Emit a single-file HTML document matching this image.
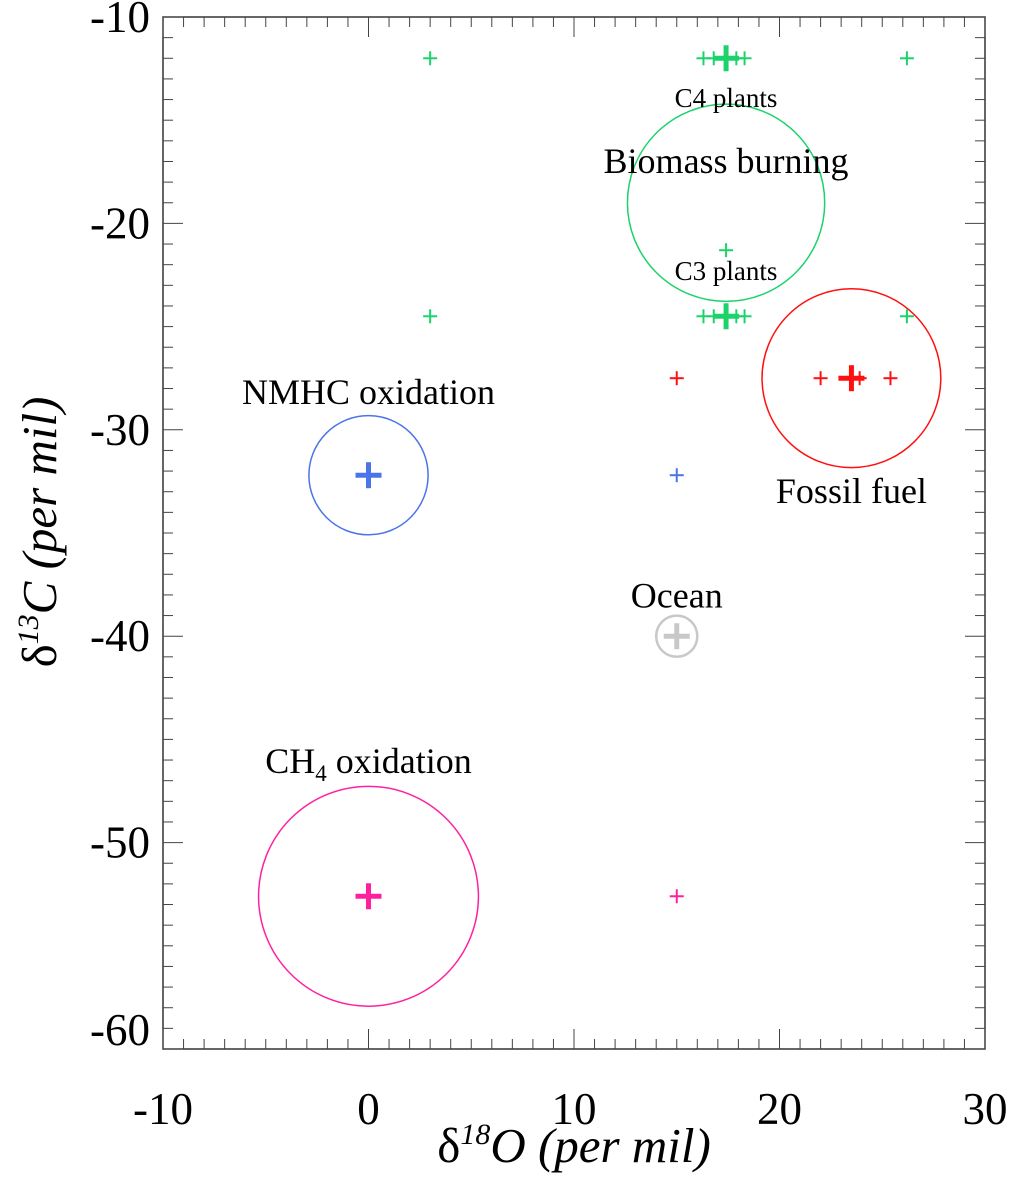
<!DOCTYPE html>
<html><head><meta charset="utf-8"><style>
html,body{margin:0;padding:0;background:#fff}
svg{display:block}
text{font-family:"Liberation Serif",serif;fill:#000}
</style></head><body>
<svg id="chart" width="1024" height="1181" xmlns="http://www.w3.org/2000/svg">
<g id="axes"></g>
<g id="marks"></g>
<text x="574" y="1162" font-size="49" text-anchor="middle">δ<tspan font-style="italic" font-size="30" dy="-18">18</tspan><tspan font-style="italic" dy="18">O (per mil)</tspan></text>
<text transform="translate(56,532) rotate(-90)" font-size="49" text-anchor="middle">δ<tspan font-style="italic" font-size="30" dy="-18">13</tspan><tspan font-style="italic" dy="18">C (per mil)</tspan></text>
</svg>
<script>
const xTicks=[-10,0,10,20,30];
const yTicks=[-10,-20,-30,-40,-50,-60];
const circleX=[17.4,23.5,0,0,15];
const circleY=[-19,-27.5,-32.2,-52.6,-40];
const circleR=[4.8,4.35,2.9,5.35,1.0];
const circleColor=['#1bd36a','#ff1010','#4a74e8','#ff20a0','#c8c8c8'];
const bigX=[17.4,17.4,23.5,0,0,15];
const bigY=[-12,-24.5,-27.5,-32.2,-52.6,-40];
const bigColor=['#1bd36a','#1bd36a','#ff1010','#4a74e8','#ff20a0','#c8c8c8'];
const smallX=[3,16.3,16.8,17.9,18.3,26.2,3,16.3,16.8,17.9,18.3,26.2,17.4,15,22,23.9,25.4,15,15];
const smallY=[-12,-12,-12,-12,-12,-12,-24.5,-24.5,-24.5,-24.5,-24.5,-24.5,-21.3,-27.5,-27.5,-27.5,-27.5,-32.2,-52.6];
const smallColor=['#1bd36a','#1bd36a','#1bd36a','#1bd36a','#1bd36a','#1bd36a','#1bd36a','#1bd36a','#1bd36a','#1bd36a','#1bd36a','#1bd36a','#1bd36a','#ff1010','#ff1010','#ff1010','#ff1010','#4a74e8','#ff20a0'];
const labelText=['C4 plants','Biomass burning','C3 plants','NMHC oxidation','Fossil fuel','Ocean'];
const labelX=[17.4,17.4,17.4,0,23.5,15];
const labelY=[-14.36,-17.56,-22.74,-28.75,-33.55,-38.6];
const labelSize=[27,36,27,36,36,36];

const X0=163,X1=985,Y0=17,Y1=1049;
const sx=v=>X0+(v+10)*(X1-X0)/40;
const sy=v=>Y0+(-10-v)*(Y1-Y0)/50;
const NS='http://www.w3.org/2000/svg';
function mk(tag,attrs,parent){const e=document.createElementNS(NS,tag);for(const k in attrs)e.setAttribute(k,attrs[k]);parent.appendChild(e);return e;}
const axes=document.getElementById('axes'),marks=document.getElementById('marks');
const frame=mk('rect',{x:X0,y:Y0,width:X1-X0,height:Y1-Y0,fill:'none',stroke:'#333','stroke-width':1.5},axes);


for(let v=-10;v<=30;v++){const x=sx(v);const L=(v%10===0)?20:10;
 mk('line',{x1:x,y1:Y1,x2:x,y2:Y1-L,stroke:'#444','stroke-width':1},axes);
 mk('line',{x1:x,y1:Y0,x2:x,y2:Y0+L,stroke:'#444','stroke-width':1},axes);}
for(let v=-60;v<=-10;v++){const y=sy(v);const L=(v%10===0)?20:10;
 mk('line',{x1:X0,y1:y,x2:X0+L,y2:y,stroke:'#444','stroke-width':1},axes);
 mk('line',{x1:X1,y1:y,x2:X1-L,y2:y,stroke:'#444','stroke-width':1},axes);}
xTicks.forEach(v=>{const t=mk('text',{x:sx(v),y:1124,'font-size':45,'text-anchor':'middle'},axes);t.textContent=v;
 
 });
yTicks.forEach(v=>{const t=mk('text',{x:150,y:Math.min(sy(v)+15,1045),'font-size':45,'text-anchor':'end'},axes);t.textContent=v;
 
 });
const ppu=(X1-X0)/40;
circleX.forEach((v,i)=>{const c=mk('circle',{cx:sx(v),cy:sy(circleY[i]),r:circleR[i]*ppu,fill:'none',stroke:circleColor[i],'stroke-width':i===4?2.5:1.5},marks);
 
 });
function plus(x,y,h,w,col,name){const g=mk('g',{},marks);
 
 
 mk('line',{x1:x-h,y1:y,x2:x+h,y2:y,stroke:col,'stroke-width':w},g);
 mk('line',{x1:x,y1:y-h,x2:x,y2:y+h,stroke:col,'stroke-width':w},g);}
smallX.forEach((v,i)=>plus(sx(v),sy(smallY[i]),7,2,smallColor[i],'small-marker'));
bigX.forEach((v,i)=>plus(sx(v),sy(bigY[i]),13,5,bigColor[i],'big-marker'));
labelText.forEach((s,i)=>{const t=mk('text',{x:sx(labelX[i]),y:sy(labelY[i]),'font-size':labelSize[i],'text-anchor':'middle'},marks);t.textContent=s;
 
 });
const ch=mk('text',{x:sx(0),y:sy(-46.63),'font-size':36,'text-anchor':'middle'},marks);


ch.innerHTML='CH<tspan font-size="23" dy="8">4</tspan><tspan dy="-8"> oxidation</tspan>';
</script>
</body></html>
